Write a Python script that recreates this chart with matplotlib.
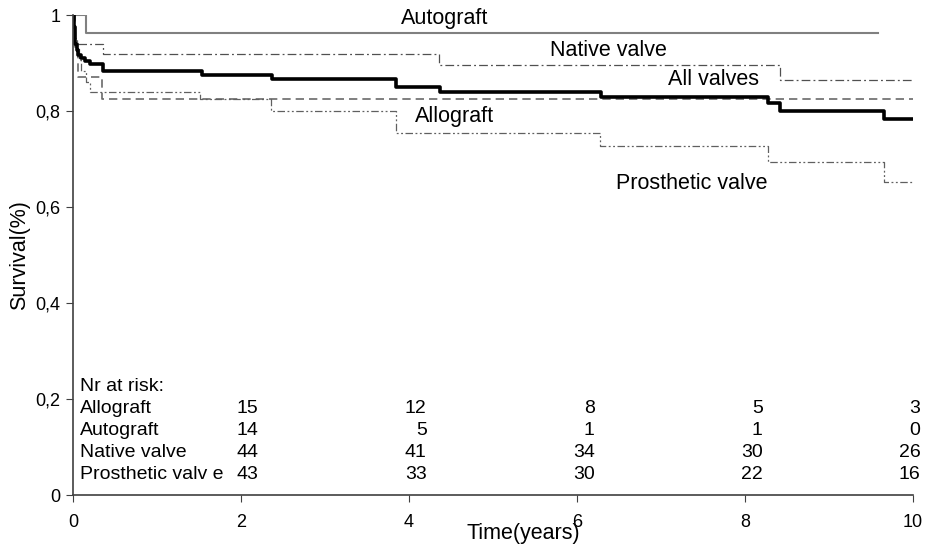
import matplotlib
matplotlib.use("Agg")
import matplotlib.pyplot as plt

plt.rcParams['font.family'] = ['Liberation Sans', 'DejaVu Sans']

# Kaplan-Meier step curves (time in years, survival fraction after each event)
allvalves_t = [0, 0.01, 0.02, 0.03, 0.045, 0.065, 0.1, 0.14, 0.2, 0.36, 1.54, 2.37, 3.85, 4.37, 6.29, 8.27, 8.42, 9.65, 10]
allvalves_s = [1, 0.975, 0.955, 0.94, 0.927, 0.917, 0.91, 0.904, 0.898, 0.883, 0.875, 0.867, 0.85, 0.84, 0.829, 0.817, 0.80, 0.783, 0.783]

autograft_t = [0, 0.15, 9.58]
autograft_s = [1, 0.963, 0.963]

native_t = [0, 0.01, 0.03, 0.36, 4.36, 8.42, 10]
native_s = [1, 0.977, 0.94, 0.919, 0.896, 0.865, 0.865]

allograft_t = [0, 0.03, 0.06, 0.35, 10]
allograft_s = [1, 0.933, 0.871, 0.825, 0.825]

prosthetic_t = [0, 0.01, 0.03, 0.05, 0.07, 0.1, 0.15, 0.2, 1.51, 2.36, 3.85, 6.27, 8.27, 9.65, 10]
prosthetic_s = [1, 0.977, 0.953, 0.93, 0.907, 0.884, 0.86, 0.839, 0.825, 0.80, 0.754, 0.727, 0.694, 0.652, 0.652]

# numbers at risk
risk_times = [2, 4, 6, 8, 10]
risk_groups = ['Allograft', 'Autograft', 'Native valve', 'Prosthetic valv e']
risk_allograft = [15, 12, 8, 5, 3]
risk_autograft = [14, 5, 1, 1, 0]
risk_native = [44, 41, 34, 30, 26]
risk_prosthetic = [43, 33, 30, 22, 16]

fig = plt.figure(figsize=(9.32, 5.45), dpi=100)
ax = fig.add_axes([0.0783, 0.0917, 0.9013, 0.8807])

ax.step(autograft_t, autograft_s, where='post', color='#808080', lw=1.5)
ax.step(native_t, native_s, where='post', color='#505050', lw=0.9,
        dashes=(7, 2.5, 1.5, 2.5))
ax.step(allograft_t, allograft_s, where='post', color='#6a6a6a', lw=1.2,
        dashes=(5, 3))
ax.step(prosthetic_t, prosthetic_s, where='post', color='#606060', lw=0.9,
        dashes=(6, 2, 1.5, 2, 1.5, 2))
ax.step(allvalves_t, allvalves_s, where='post', color='black', lw=2.6)

# curve names
lab_fs = 15.5
ax.text(4.43, 0.993, 'Autograft', ha='center', va='center', fontsize=lab_fs)
ax.text(6.38, 0.927, 'Native valve', ha='center', va='center', fontsize=lab_fs)
ax.text(7.63, 0.865, 'All valves', ha='center', va='center', fontsize=lab_fs)
ax.text(4.54, 0.788, 'Allograft', ha='center', va='center', fontsize=lab_fs)
ax.text(7.37, 0.650, 'Prosthetic valve', ha='center', va='center', fontsize=lab_fs)

# risk table
tab_fs = 14
row_step = 0.0458
ax.text(0.083, 0.227, 'Nr at risk:', ha='left', va='center', fontsize=tab_fs)
rows = [risk_allograft, risk_autograft, risk_native, risk_prosthetic]
for i, (name, vals) in enumerate(zip(risk_groups, rows)):
    y = 0.227 - row_step * (i + 1)
    ax.text(0.083, y, name, ha='left', va='center', fontsize=tab_fs)
    for t, v in zip(risk_times, vals):
        ax.text(min(t + 0.21, 10.09), y, str(v), ha='right', va='center', fontsize=tab_fs)

ax.set_xlim(0, 10)
ax.set_ylim(0, 1)
ax.set_xticks([0, 2, 4, 6, 8, 10])
ax.set_yticks([0, 0.2, 0.4, 0.6, 0.8, 1])
ax.set_yticklabels(['0', '0,2', '0,4', '0,6', '0,8', '1'])
ax.tick_params(axis='x', length=5, pad=9, labelsize=13, color='#404040')
ax.tick_params(axis='y', length=5, pad=4, labelsize=13, color='#404040')
for side in ['top', 'right']:
    ax.spines[side].set_visible(False)
for side in ['left', 'bottom']:
    ax.spines[side].set_color('#404040')
    ax.spines[side].set_linewidth(1.2)

fig.text(0.562, 0.021, 'Time(years)', ha='center', va='center', fontsize=15.5)
fig.text(0.021, 0.532, 'Survival(%)', ha='center', va='center', rotation=90, fontsize=15.5)

fig.savefig('out.png', dpi=100)
